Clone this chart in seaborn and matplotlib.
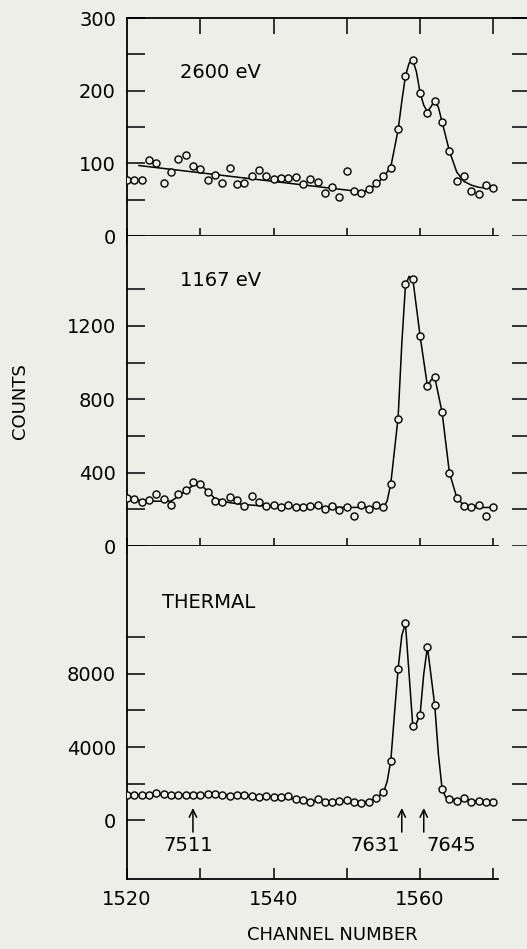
import matplotlib
matplotlib.use("Agg")
import matplotlib.pyplot as plt
import seaborn as sns
import pandas as pd

# ---------------- data ----------------
channels = list(range(1520, 1571))

counts_2600 = [77, 77, 77, 105, 101, 73, 88, 106, 111, 97,
               92, 77, 84, 73, 94, 72, 73, 83, 91, 83,
               78, 80, 80, 81, 71, 78, 75, 59, 68, 54,
               89, 62, 59, 64, 73, 83, 94, 147, 220, 242,
               197, 169, 186, 157, 117, 76, 82, 62, 58, 70, 66]

counts_1167 = [261, 256, 241, 252, 281, 256, 223, 281, 307, 347,
               340, 292, 243, 239, 266, 252, 219, 274, 241, 219,
               221, 210, 223, 215, 215, 219, 225, 201, 219, 194,
               210, 164, 223, 201, 223, 215, 340, 690, 1430, 1458,
               1145, 870, 924, 729, 400, 262, 219, 210, 225, 161, 215]

counts_thermal = [1390, 1350, 1370, 1350, 1480, 1410, 1390, 1370, 1370, 1370,
                  1390, 1440, 1410, 1370, 1330, 1350, 1390, 1300, 1260, 1300,
                  1280, 1260, 1300, 1170, 1070, 980, 1130, 1000, 1000, 1055,
                  1110, 980, 926, 1000, 1200, 1520, 3240, 8280, 10780, 5170,
                  5780, 9480, 6280, 1720, 1150, 1055, 1200, 963, 1055, 963, 1000]

fit_2600_x = [1521.6, 1551, 1552, 1553, 1554, 1555, 1556, 1557, 1557.5, 1558, 1558.5,
              1559, 1559.5, 1560, 1560.5, 1561, 1561.5, 1562, 1562.5, 1563, 1564,
              1565, 1566, 1567, 1568, 1569, 1570]
fit_2600_y = [97, 62, 60, 63, 71, 81, 95, 146, 185, 220, 238,
              242, 226, 197, 180, 171, 178, 187, 177, 157, 117,
              88, 75, 70, 67, 66, 66]

fit_1167_x = [1520, 1522, 1524, 1526, 1527, 1528, 1529, 1530, 1531, 1532,
              1534, 1536, 1538, 1540, 1545, 1550, 1555, 1555.5, 1556, 1557,
              1557.5, 1558, 1558.5, 1559, 1560, 1561, 1561.5, 1562, 1563, 1564,
              1565, 1566, 1567, 1570]
fit_1167_y = [255, 248, 244, 245, 270, 300, 330, 335, 300, 258,
              236, 226, 220, 215, 212, 210, 212, 245, 340, 700,
              1100, 1420, 1470, 1458, 1145, 872, 905, 920, 729, 400,
              265, 220, 210, 210]

fit_thermal_x = [1520, 1525, 1530, 1535, 1540, 1545, 1550, 1553, 1554, 1555,
                 1555.5, 1556, 1556.5, 1557, 1557.5, 1558, 1559, 1559.5, 1560,
                 1560.5, 1561, 1562, 1562.5, 1563, 1563.5, 1564, 1566, 1570]
fit_thermal_y = [1380, 1390, 1380, 1350, 1280, 1050, 1050, 1000, 1200, 1520,
                 2100, 3240, 5800, 8280, 10100, 10780, 5170, 5300, 5780,
                 8000, 9480, 6280, 3600, 1720, 1250, 1150, 1100, 1000]

panel_labels = ["2600 eV", "1167 eV", "THERMAL"]
arrow_channels = [1529.0, 1557.5, 1560.5]
arrow_labels = ["7511", "7631", "7645"]

x_ticks = [1520, 1530, 1540, 1550, 1560, 1570]
x_ticklabels = ["1520", "", "1540", "", "1560", ""]
y_ticks_2600 = [0, 50, 100, 150, 200, 250, 300]
y_labels_2600 = ["0", "", "100", "", "200", "", "300"]
y_ticks_1167 = [0, 200, 400, 600, 800, 1000, 1200, 1400]
y_labels_1167 = ["0", "", "400", "", "800", "", "1200", ""]
y_ticks_thermal = [0, 2000, 4000, 6000, 8000, 10000]
y_labels_thermal = ["0", "", "4000", "", "8000", ""]

# ---------------- style ----------------
BG = "#eeeee8"
sns.set_theme(style="ticks")
plt.rcParams["font.family"] = ["DejaVu Sans"]
plt.rcParams["axes.facecolor"] = BG
plt.rcParams["figure.facecolor"] = BG
plt.rcParams["text.color"] = "black"
plt.rcParams["axes.edgecolor"] = "black"
plt.rcParams["xtick.color"] = "black"
plt.rcParams["ytick.color"] = "black"

W, H = 527, 949
fig = plt.figure(figsize=(W / 100, H / 100), dpi=100)

left_px, right_px = 127, 530
panels_px = [(18, 236), (236, 546), (546, 879)]
ylims = [(0, 300), (0, 1690), (-3230, 15010)]

def frac_rect(top, bottom):
    return [left_px / W, (H - bottom) / H, (right_px - left_px) / W, (bottom - top) / H]

axes = [fig.add_axes(frac_rect(t, b)) for t, b in panels_px]

data_sets = [
    (counts_2600, fit_2600_x, fit_2600_y, y_ticks_2600, y_labels_2600),
    (counts_1167, fit_1167_x, fit_1167_y, y_ticks_1167, y_labels_1167),
    (counts_thermal, fit_thermal_x, fit_thermal_y, y_ticks_thermal, y_labels_thermal),
]

for i, (ax, (cnt, fx, fy, yt, yl)) in enumerate(zip(axes, data_sets)):
    ax.set_facecolor(BG)
    df_fit = pd.DataFrame({"x": fx, "y": fy})
    df_pts = pd.DataFrame({"x": channels, "y": cnt})
    sns.lineplot(data=df_fit, x="x", y="y", ax=ax, color="black", lw=1.1,
                 estimator=None, sort=False, zorder=2)
    sns.scatterplot(data=df_pts, x="x", y="y", ax=ax, marker="o", s=26,
                    facecolor=BG, edgecolor="black", linewidth=1.0, zorder=3)
    ax.set_xlim(1520, 1575)
    ax.set_ylim(*ylims[i])
    ax.set_xlabel("")
    ax.set_ylabel("")
    ax.set_yticks(yt)
    ax.set_yticklabels(yl)
    ax.set_xticks(x_ticks)
    ax.tick_params(axis="y", which="both", left=True, right=True, direction="in",
                   length=13, width=1.1, pad=8, labelsize=14, colors="black")
    ax.spines["right"].set_visible(False)
    for s in ("left", "bottom", "top"):
        ax.spines[s].set_linewidth(1.3)
        ax.spines[s].set_color("black")
    ax.spines["bottom"].set_bounds(1520, 1570.6)
    if i == 0:
        ax.spines["top"].set_visible(True)
        ax.tick_params(axis="x", top=False, bottom=True, labelbottom=False,
                       direction="inout", length=11.5, width=1.1)
        ax2 = ax.secondary_xaxis("top")
        ax2.set_xticks(x_ticks[1:])
        ax2.tick_params(axis="x", direction="in", length=11.5, width=1.1,
                        labeltop=False, colors="black")
        ax2.spines["top"].set_visible(False)
    else:
        ax.spines["top"].set_visible(False)
        if i == 1:
            ax.tick_params(axis="x", bottom=True, top=False, labelbottom=False,
                           direction="inout", length=11.5, width=1.1)
        else:
            ax.tick_params(axis="x", bottom=True, top=False, labelbottom=True,
                           direction="in", length=8, width=1.1, pad=8,
                           labelsize=14, colors="black")
            ax.set_xticklabels(x_ticklabels)

# panel labels
label_pos = [(180, 72), (180, 280), (162, 603)]
for (px, py), txt in zip(label_pos, panel_labels):
    fig.text(px / W, 1 - py / H, txt, fontsize=14, va="center", ha="left", color="black")

# arrows in thermal panel
ax3 = axes[2]
label_ha = ["center", "right", "left"]
label_dx = [-5, -2, 3]
for xc, lab, ha, dx in zip(arrow_channels, arrow_labels, label_ha, label_dx):
    ax3.annotate("", xy=(xc, 660), xytext=(xc, -660),
                 arrowprops=dict(arrowstyle="->,head_length=0.45,head_width=0.22",
                                 lw=1.1, color="black", shrinkA=0, shrinkB=0))
    ax3.annotate(lab, xy=(xc, -1370), xytext=(dx, 0), textcoords="offset pixels",
                 ha=ha, va="center", fontsize=14, color="black")

fig.text(332 / W, 1 - 935 / H, "CHANNEL NUMBER", fontsize=13, ha="center", va="center", color="black")
fig.text(20 / W, 1 - 401 / H, "COUNTS", fontsize=13, rotation=90, ha="center", va="center", color="black")

fig.savefig("out.png", dpi=100, facecolor=BG)
